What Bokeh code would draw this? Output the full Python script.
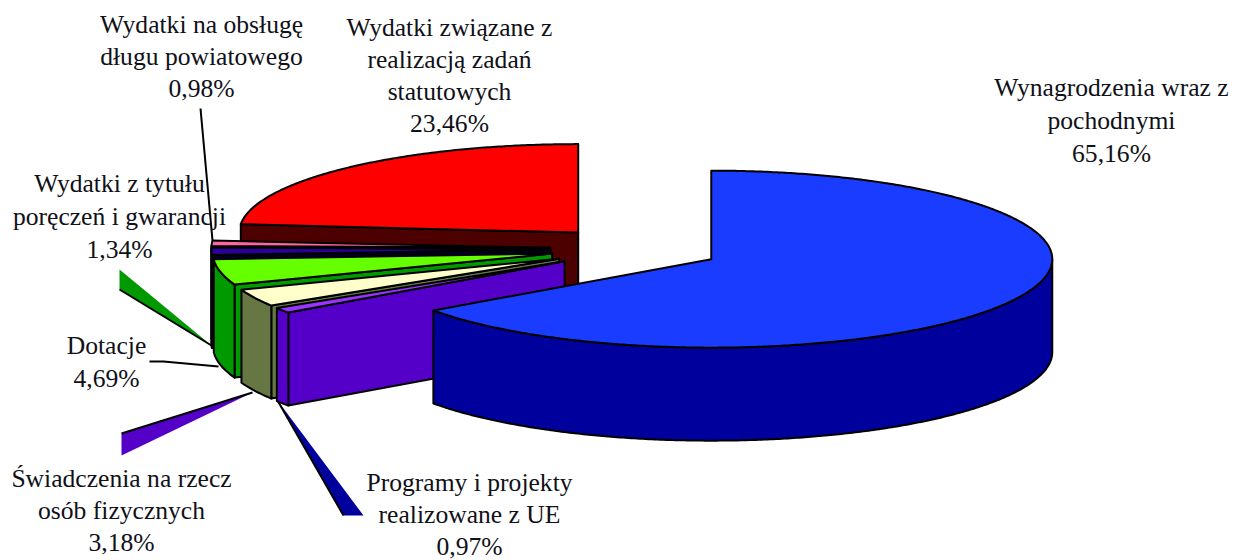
import numpy as np
from bokeh.plotting import figure
from bokeh.models import Range1d
from bokeh.core.properties import value
from bokeh.embed import file_html
from bokeh.resources import INLINE

# data, clockwise from 12 o'clock
labels = ["Wynagrodzenia wraz z\npochodnymi", "Programy i projekty\nrealizowane z UE",
          "Świadczenia na rzecz\nosób fizycznych", "Dotacje",
          "Wydatki z tytułu\nporęczeń i gwarancji", "Wydatki na obsługę\ndługu powiatowego",
          "Wydatki związane z\nrealizacją zadań\nstatutowych"]
values = [65.16, 0.97, 3.18, 4.69, 1.34, 0.98, 23.46]
top_colors = ["#1a3cff", "#9933ff", "#ffffcc", "#66ff00", "#2a0099", "#ff66a0", "#ff0000"]
side_colors = ["#00009c", "#5500c8", "#667744", "#009900", "#000022", "#220011", "#4d0000"]

# layout of the 3-D pie (screen pixels)
CX, CY, RX, RX_SMALL, RY, DEPTH, EXPLODE = 635, 248.5, 341, 339, 88.5, 93, 0.25
label_pos = [(1111, 87), (469, 482), (121, 478), (106, 345), (119, 183), (201, 24), (449, 27)]
line_h = [33, 32, 32, 33, 33, 32, 32]
paint_order = [6, 5, 4, 3, 2, 1, 0]

p = figure(width=1239, height=560, output_backend="svg", toolbar_location=None,
           x_range=Range1d(0, 1239), y_range=Range1d(560, 0), min_border=0,
           outline_line_color=None, background_fill_color="white")
p.axis.visible = False
p.grid.visible = False

starts = np.cumsum([0] + values[:-1])
starts[-1] = 100 - values[-1]  # last slice closes the circle
LW = 2

def arc(cx, cy, rx, a0, a1, dy=0):
    t = np.radians(np.linspace(a0, a1, max(int(abs(a1 - a0) * 2), 2) + 1))
    return cx + rx * np.sin(t), cy - RY * np.cos(t) + dy

for i in paint_order:
    a0 = starts[i] * 3.6
    a1 = a0 + values[i] * 3.6
    mid = np.radians((a0 + a1) / 2)
    cx = CX + EXPLODE * RX * np.sin(mid)
    cy = CY - EXPLODE * RY * np.cos(mid)
    rx = RX if i == 0 else RX_SMALL
    # radial face on the slice's start edge
    if a0 > 0:
        ox, oy = arc(cx, cy, rx, a0, a0)
        x0, y0 = ox[0], oy[0]
        p.patch([cx, x0, x0, cx], [cy, y0, y0 + DEPTH, cy + DEPTH], fill_color=side_colors[i],
                line_color="black", line_width=LW, line_join="round")
    # outer wall, front half only
    w0, w1 = max(a0, 90), min(a1, 270)
    if w1 > w0:
        tx, ty = arc(cx, cy, rx, w0, w1)
        bx, by = arc(cx, cy, rx, w1, w0, DEPTH)
        p.patch(np.r_[tx, bx], np.r_[ty, by], fill_color=side_colors[i],
                line_color="black", line_width=LW, line_join="round")
    # top face
    ax, ay = arc(cx, cy, rx, a0, a1)
    p.patch(np.r_[cx, ax], np.r_[cy, ay], fill_color=top_colors[i],
            line_color="black", line_width=LW, line_join="round")

# leaders (annotations of the original drawing)
leader_polys = [([119, 119, 211], [269, 289, 345], "#009900", ([119, 211], [289, 345])),
                ([121, 121, 252], [433, 455, 392], "#5500c8", ([121, 252], [433, 392])),
                ([343, 363, 277], [515, 515, 400], "#00009c", ([343, 277], [515, 400]))]
for xs, ys, c, (lx, ly) in leader_polys:
    p.patch(xs, ys, fill_color=c, line_color=None)
    p.line(lx, ly, line_color="black", line_width=LW)
p.line([149, 163, 218], [361, 361, 366], line_color="black", line_width=LW)
p.line([200, 212], [108, 240], line_color="black", line_width=LW)

# labels
tx, ty, tt = [], [], []
for lab, v, (x, y), h in zip(labels, values, label_pos, line_h):
    lines = lab.split("\n") + [f"{v:.2f}".replace(".", ",") + "%"]
    for k, s in enumerate(lines):
        tx.append(x); ty.append(y + k * h); tt.append(s)
p.text(tx, ty, text=tt, text_font=value("Liberation Serif"), text_font_size="25.6px",
       text_align="center", text_baseline="middle", text_color="#101018")

open("out.html", "w").write(file_html(p, INLINE))
